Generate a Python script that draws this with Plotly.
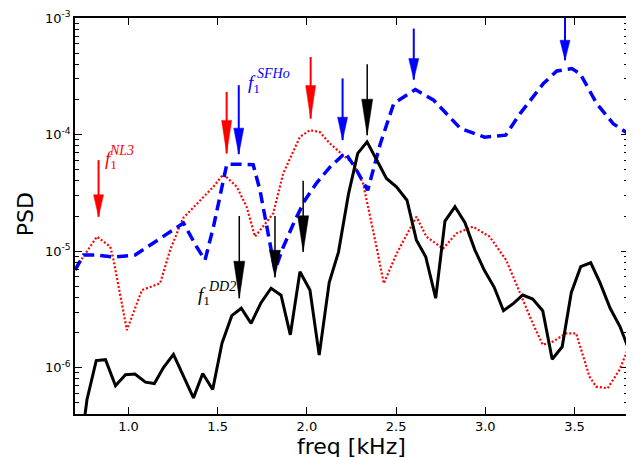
import numpy as np
import plotly.graph_objects as go

# ---------------- data ----------------
dd2_freq = [0.713, 0.767, 0.819, 0.871, 0.927, 0.983, 1.036, 1.095, 1.145, 1.196,
            1.252, 1.308, 1.364, 1.416, 1.472, 1.524, 1.579, 1.632, 1.687, 1.743,
            1.799, 1.855, 1.907, 1.961, 2.017, 2.069, 2.125, 2.177, 2.233, 2.285,
            2.337, 2.390, 2.446, 2.502, 2.561, 2.614, 2.666, 2.722, 2.774, 2.830,
            2.886, 2.942, 2.994, 3.050, 3.102, 3.158, 3.210, 3.266, 3.322, 3.375,
            3.431, 3.482, 3.535, 3.591, 3.643, 3.700, 3.755, 3.807]
dd2_psd = [1.2e-7, 5.3e-7, 1.15e-6, 1.17e-6, 7.0e-7, 8.7e-7, 8.8e-7, 7.5e-7, 7.3e-7, 1.0e-6,
           1.30e-6, 8.4e-7, 5.5e-7, 8.9e-7, 6.5e-7, 1.62e-6, 2.79e-6, 3.23e-6, 2.40e-6, 3.61e-6,
           4.80e-6, 4.18e-6, 1.91e-6, 6.65e-6, 4.63e-6, 1.28e-6, 5.36e-6, 9.8e-6, 3.08e-5, 6.89e-5,
           8.65e-5, 6.11e-5, 4.20e-5, 3.56e-5, 2.73e-5, 1.24e-5, 8.94e-6, 3.94e-6, 1.81e-5, 2.40e-5,
           1.75e-5, 1.02e-5, 6.88e-6, 4.89e-6, 3.08e-6, 3.56e-6, 4.20e-6, 3.88e-6, 3.08e-6, 1.18e-6,
           1.51e-6, 4.40e-6, 7.34e-6, 7.94e-6, 5.36e-6, 3.23e-6, 2.25e-6, 1.40e-6]

nl3_freq = [0.700, 0.823, 0.898, 0.916, 0.991, 1.075, 1.177, 1.233, 1.306, 1.401,
            1.474, 1.532, 1.607, 1.662, 1.709, 1.811, 1.867, 1.961, 2.017, 2.073,
            2.129, 2.203, 2.259, 2.315, 2.352, 2.390, 2.431, 2.504, 2.614, 2.670,
            2.763, 2.838, 2.931, 3.024, 3.117, 3.210, 3.266, 3.322, 3.378, 3.453,
            3.509, 3.584, 3.621, 3.686, 3.752, 3.800]
nl3_psd = [7.0e-6, 1.33e-5, 1.09e-5, 8.38e-6, 2.10e-6, 4.63e-6, 5.28e-6, 1.02e-5, 1.92e-5, 2.74e-5,
           3.54e-5, 4.57e-5, 3.56e-5, 2.40e-5, 1.33e-5, 2.10e-5, 4.63e-5, 9.55e-5, 1.09e-4, 1.05e-4,
           8.38e-5, 6.65e-5, 5.65e-5, 3.81e-5, 2.10e-5, 1.09e-5, 5.28e-6, 9.6e-6, 1.97e-5, 1.33e-5,
           1.05e-5, 1.42e-5, 1.62e-5, 1.33e-5, 8.38e-6, 3.80e-6, 2.40e-6, 1.57e-6, 1.67e-6, 1.97e-6,
           1.97e-6, 8.38e-7, 6.87e-7, 6.65e-7, 9.55e-7, 1.45e-6]

sfho_freq = [0.700, 0.748, 0.814, 0.916, 1.037, 1.159, 1.308, 1.383, 1.429, 1.476,
             1.551, 1.607, 1.699, 1.737, 1.774, 1.821, 1.867, 1.933, 1.989, 2.054,
             2.129, 2.215, 2.269, 2.341, 2.412, 2.487, 2.608, 2.711, 2.860, 2.996,
             3.114, 3.196, 3.326, 3.401, 3.485, 3.532, 3.624, 3.717, 3.800]
sfho_psd = [6.87e-6, 9.25e-6, 9.25e-6, 8.89e-6, 9.25e-6, 1.24e-5, 1.74e-5, 1.08e-5, 8.38e-6, 1.61e-5,
            5.57e-5, 5.57e-5, 5.5e-5, 3.33e-5, 1.61e-5, 6.87e-6, 1.08e-5, 1.84e-5, 2.73e-5, 3.83e-5,
            5.25e-5, 6.97e-5, 5.25e-5, 3.33e-5, 8.38e-5, 1.85e-4, 2.43e-4, 1.97e-4, 1.13e-4, 9.49e-5,
            9.88e-5, 1.52e-4, 2.74e-4, 3.51e-4, 3.68e-4, 3.33e-4, 1.85e-4, 1.24e-4, 1.02e-4]

# arrows marking f1 peaks
arrow_freq = [0.832, 1.550, 2.021, 1.618, 2.200, 2.599, 3.447, 1.621, 1.821, 1.979, 2.338]
arrow_tip = [1.97e-5, 6.89e-5, 1.37e-4, 6.79e-5, 8.95e-5, 2.96e-4, 4.34e-4, 3.94e-6, 5.96e-6, 9.86e-6, 9.88e-5]
arrow_top = [6.03e-5, 2.32e-4, 4.63e-4, 2.65e-4, 3.03e-4, 8.11e-4, 1.0e-3, 2.0e-5, 2.0e-5, 4.01e-5, 4.01e-4]
arrow_series = ["NL3", "NL3", "NL3", "SFHo", "SFHo", "SFHo", "SFHo", "DD2", "DD2", "DD2", "DD2"]

x_tickvals = [1.0, 1.5, 2.0, 2.5, 3.0, 3.5]
x_ticktext = ["1.0", "1.5", "2.0", "2.5", "3.0", "3.5"]
y_tickvals = [1e-6, 1e-5, 1e-4, 1e-3]
y_ticktext = ["10<sup>-6</sup>", "10<sup>-5</sup>", "10<sup>-4</sup>", "10<sup>-3</sup>"]

# ---------------- styles ----------------
colors = {"NL3": "#ff0000", "SFHo": "#0000ff", "DD2": "#000000"}
head_len = [22, 33, 33, 26, 23, 21, 20, 37, 27, 36, 36]
head_w = {"NL3": 10, "SFHo": 10, "DD2": 11}
shaft_w = {"NL3": 2, "SFHo": 2, "DD2": 1.5}

fig = go.Figure()
fig.add_trace(go.Scatter(x=nl3_freq, y=nl3_psd, mode="lines",
                         line=dict(color=colors["NL3"], width=2.2, dash="2px,2px"),
                         showlegend=False))
fig.add_trace(go.Scatter(x=sfho_freq, y=sfho_psd, mode="lines",
                         line=dict(color=colors["SFHo"], width=3.5, dash="11px,6px"),
                         showlegend=False))
fig.add_trace(go.Scatter(x=dd2_freq, y=dd2_psd, mode="lines",
                         line=dict(color=colors["DD2"], width=3),
                         showlegend=False))

shapes = []
for f, tip, top, s, hl in zip(arrow_freq, arrow_tip, arrow_top, arrow_series, head_len):
    c = colors[s]
    w = head_w[s]
    shapes.append(dict(type="line", xref="x", yref="y", x0=f, x1=f,
                       y0=top, y1=tip, line=dict(color=c, width=shaft_w[s])))
    shapes.append(dict(type="path", xref="x", yref="y", xsizemode="pixel", ysizemode="pixel",
                       xanchor=f, yanchor=tip,
                       path=f"M 0 0 L {-w/2} {hl} L {w/2} {hl} Z",
                       fillcolor=c, line=dict(color=c, width=0.5)))

serif = "Liberation Serif"
annotations = []
labels = [("NL3", 0.855, -4.215, 0.882, -4.135),
          ("SFHo", 1.661, -3.565, 1.708, -3.475),
          ("DD2", 1.376, -5.385, 1.432, -5.305)]
for name, xm, ym, xs, ys in labels:
    c = colors[name]
    annotations.append(dict(x=xm, y=ym, xref="x", yref="y", text="<i>f</i><sub>1</sub>",
                            showarrow=False, xanchor="left", yanchor="middle",
                            font=dict(family=serif, size=19, color=c)))
    annotations.append(dict(x=xs, y=ys, xref="x", yref="y", text=f"<i>{name}</i>",
                            showarrow=False, xanchor="left", yanchor="middle",
                            font=dict(family=serif, size=14, color=c)))

# the page body adds an 8px offset, so the figure is 8px smaller than the window
annotations.append(dict(x=0.5, y=-0.082, xref="paper", yref="paper", text="freq [kHz]",
                        showarrow=False, xanchor="center", yanchor="middle",
                        font=dict(family="DejaVu Sans", size=22, color="black")))
annotations.append(dict(x=-0.09, y=0.505, xref="paper", yref="paper", text="PSD",
                        showarrow=False, textangle=-90, xanchor="center", yanchor="middle",
                        font=dict(family="DejaVu Sans", size=22, color="black")))

fig.update_layout(
    width=626, height=449,
    margin=dict(l=67, r=6, t=10, b=43, autoexpand=False),
    paper_bgcolor="white", plot_bgcolor="white",
    font=dict(family="DejaVu Sans", size=13, color="black"),
    shapes=shapes, annotations=annotations,
    showlegend=False,
)
fig.update_xaxes(range=[0.7, 3.8], tickvals=x_tickvals, ticktext=x_ticktext,
                 ticks="inside", ticklen=7, tickwidth=1, tickcolor="black",
                 showline=True, linecolor="black", linewidth=1.5, mirror="ticks",
                 showgrid=False, zeroline=False, tickfont=dict(size=13), automargin=False)
fig.update_yaxes(type="log", range=[np.log10(4e-7), -3], tickvals=y_tickvals, ticktext=y_ticktext,
                 ticks="inside", ticklen=7, tickwidth=1, tickcolor="black",
                 showline=True, linecolor="black", linewidth=1.5, mirror="ticks",
                 showgrid=False, zeroline=False, tickfont=dict(size=13), automargin=False,
                 minor=dict(ticks="inside", ticklen=4, tickcolor="black", dtick="D1", showgrid=False))

fig.write_html("out.html")
